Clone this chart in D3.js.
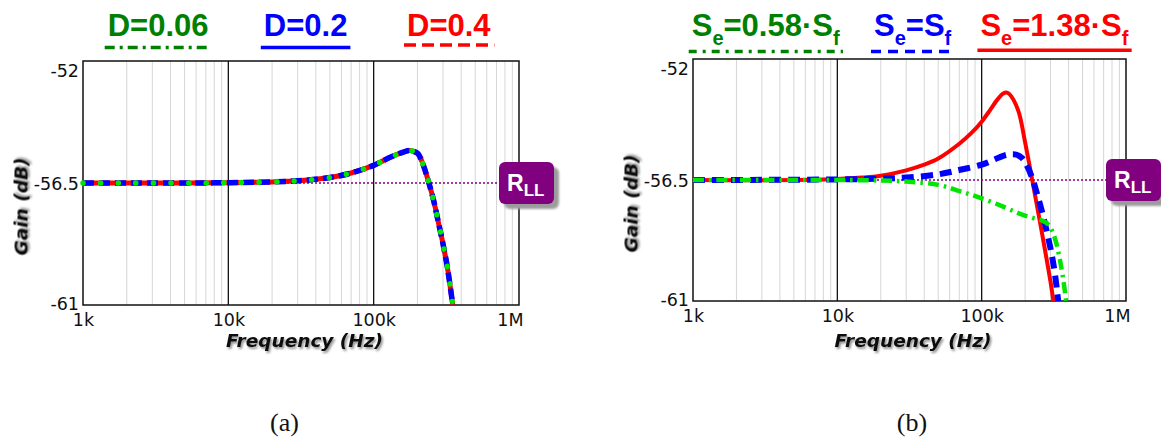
<!DOCTYPE html>
<html><head><meta charset="utf-8">
<script src="https://cdn.jsdelivr.net/npm/d3@7"></script>
<style>
html,body{margin:0;padding:0;background:#fff;}
svg{display:block;}
</style></head><body>
<svg id="chart" width="1161" height="440"></svg>
<script>
// ---------- shared axis data ----------
const xTickValues = [1e3, 1e4, 1e5, 1e6];
const xTickLabels = ["1k", "10k", "100k", "1M"];
const yTickValues = [-52, -56.5, -61];
const yTickLabels = ["-52", "-56.5", "-61"];
const yDomain = [-61, -52];
const xDomain = [1e3, 1e6];
const rllGain = -56.5;
const rllLabel = "R_{LL}";
const xTitle = "Frequency (Hz)";
const yTitle = "Gain (dB)";

// ---------- (a) duty-cycle sweep ----------
const dutyLabels = ["D=0.06", "D=0.2", "D=0.4"];
const dutyFreq = [1e3, 2e3, 5e3, 1e4, 2e4, 3e4, 5e4, 7e4, 1e5, 1.3e5, 1.6e5, 1.77e5, 2e5, 2.1e5, 2.2e5, 2.4e5, 2.6e5, 2.8e5, 3e5, 3.2e5, 3.4e5, 3.5e5];
const gainD006 = [-56.5, -56.5, -56.5, -56.49, -56.46, -56.42, -56.3, -56.13, -55.85, -55.55, -55.36, -55.3, -55.4, -55.58, -55.85, -56.5, -57.2, -58.0, -58.75, -59.55, -60.5, -61];
const gainD02  = [-56.5, -56.5, -56.5, -56.49, -56.46, -56.42, -56.3, -56.13, -55.85, -55.55, -55.36, -55.3, -55.4, -55.58, -55.85, -56.5, -57.2, -58.0, -58.75, -59.55, -60.5, -61];
const gainD04  = [-56.5, -56.5, -56.5, -56.49, -56.46, -56.42, -56.3, -56.13, -55.85, -55.55, -55.36, -55.3, -55.4, -55.58, -55.85, -56.5, -57.2, -58.0, -58.75, -59.55, -60.5, -61];

// ---------- (b) compensation-ramp sweep ----------
const rampLabels = ["S_e=0.58·S_f", "S_e=S_f", "S_e=1.38·S_f"];
const rampLowFreq  = [1e3, 1e4, 2e4, 3e4, 5e4, 7.1e4, 1e5, 1.41e5, 1.85e5, 2.29e5, 2.6e5, 2.85e5, 3.05e5, 3.25e5, 3.45e5, 3.65e5, 3.85e5];
const rampLowGain  = [-56.5, -56.5, -56.52, -56.56, -56.68, -56.92, -57.18, -57.49, -57.76, -57.92, -58.0, -58.12, -58.35, -58.75, -59.35, -60.1, -61];
const rampMidFreq  = [1e3, 1e4, 2e4, 3e4, 5e4, 7.1e4, 1e5, 1.2e5, 1.41e5, 1.6e5, 1.75e5, 1.9e5, 2.05e5, 2.22e5, 2.4e5, 2.67e5, 2.98e5, 3.2e5, 3.39e5];
const rampMidGain  = [-56.5, -56.48, -56.45, -56.41, -56.29, -56.12, -55.93, -55.76, -55.6, -55.54, -55.56, -55.68, -55.95, -56.37, -56.95, -57.86, -58.98, -59.9, -61];
const rampHighFreq = [1e3, 5e3, 1e4, 1.5e4, 2e4, 3e4, 4e4, 5e4, 7e4, 8.5e4, 1e5, 1.15e5, 1.28e5, 1.41e5, 1.5e5, 1.6e5, 1.8e5, 2e5, 2.24e5, 2.5e5, 2.8e5, 3e5, 3.14e5];
const rampHighGain = [-56.5, -56.5, -56.46, -56.41, -56.34, -56.14, -55.93, -55.7, -55.15, -54.75, -54.33, -53.88, -53.52, -53.28, -53.25, -53.38, -53.95, -55.1, -56.5, -57.88, -59.36, -60.29, -61];

const zip = (f, g) => f.map((v, i) => ({f: v, g: g[i]}));

// ---------- panel layout and styling ----------
const panels = [
  {
    box: {left: 83, right: 519, top: 61, bottom: 305},
    tag: "(a)", tagX: 284.5,
    legendLabels: dutyLabels,
    legendX: [107.7, 263.8, 407], legendBaseline: 36, underlineY: [47.4, 47.4, 45],
    series: [
      {data: zip(dutyFreq, gainD006), text: "#008000",
       curve: {stroke: "#00e600", width: 5.5, dash: "0.1,17.5", cap: "round"},
       key: {stroke: "#008000", dash: "10,5,3,5"}},
      {data: zip(dutyFreq, gainD02), text: "#0000ff",
       curve: {stroke: "#0000ff", width: 5.5, dash: "11,5", cap: "butt"},
       key: {stroke: "#0000ff", dash: null}},
      {data: zip(dutyFreq, gainD04), text: "#ff0000",
       curve: {stroke: "#ff0000", width: 5, dash: null, cap: "butt"},
       key: {stroke: "#ff0000", dash: "12,6"}}
    ],
    drawOrder: [2, 1, 0]
  },
  {
    box: {left: 693, right: 1126, top: 59, bottom: 301},
    tag: "(b)", tagX: 912,
    legendLabels: rampLabels,
    legendX: [691.7, 874, 980.4], legendBaseline: 36, underlineY: [51.4, 51.4, 50.3],
    series: [
      {data: zip(rampLowFreq, rampLowGain), text: "#008000",
       curve: {stroke: "#00e600", width: 4.5, dash: "11,5,2.5,5", cap: "butt"},
       key: {stroke: "#008000", dash: "8,6,3,6"}},
      {data: zip(rampMidFreq, rampMidGain), text: "#0000ff",
       curve: {stroke: "#0000ff", width: 6, dash: "12,7", cap: "butt"},
       key: {stroke: "#0000ff", dash: "10,7"}},
      {data: zip(rampHighFreq, rampHighGain), text: "#ff0000",
       curve: {stroke: "#ff0000", width: 4, dash: null, cap: "butt"},
       key: {stroke: "#ff0000", dash: null}}
    ],
    drawOrder: [2, 1, 0]
  }
];

const svg = d3.select("#chart");
svg.append("rect").attr("width", 1161).attr("height", 440).attr("fill", "#fff");

const defs = svg.append("defs");
const ts = defs.append("filter").attr("id", "titleShadow")
  .attr("x", "-10%").attr("y", "-30%").attr("width", "130%").attr("height", "180%");
ts.append("feDropShadow").attr("dx", 1.5).attr("dy", 2).attr("stdDeviation", 1.2)
  .attr("flood-color", "#000").attr("flood-opacity", 0.45);
const bs = defs.append("filter").attr("id", "badgeBlur")
  .attr("x", "-20%").attr("y", "-20%").attr("width", "140%").attr("height", "140%");
bs.append("feGaussianBlur").attr("stdDeviation", 1.3);

// writes "S_e" / "R_{LL}" style strings as text with lowered subscripts
function richText(textSel, str, size, subSize, subDy) {
  const re = /_(\{([^}]*)\}|(.))/g;
  let last = 0, m, lowered = false;
  const parts = [];
  while ((m = re.exec(str)) !== null) {
    if (m.index > last) parts.push({t: str.slice(last, m.index), sub: false});
    parts.push({t: m[2] !== undefined ? m[2] : m[3], sub: true});
    last = re.lastIndex;
  }
  if (last < str.length) parts.push({t: str.slice(last), sub: false});
  parts.forEach(p => {
    const ts = textSel.append("tspan").text(p.t)
      .attr("font-size", p.sub ? subSize : size);
    if (p.sub && !lowered) { ts.attr("dy", subDy); lowered = true; }
    else if (!p.sub && lowered) { ts.attr("dy", -subDy); lowered = false; }
  });
}

panels.forEach(P => {
  const {left, right, top, bottom} = P.box;
  const x = d3.scaleLog().domain(xDomain).range([left, right]);
  const y = d3.scaleLinear().domain(yDomain).range([bottom, top]);
  const g = svg.append("g");

  // minor decade gridlines
  const minor = [];
  for (let e = 3; e < 6; e++) for (let k = 2; k <= 9; k++) minor.push(k * Math.pow(10, e));
  g.append("g").selectAll("line").data(minor).join("line")
    .attr("x1", d => x(d)).attr("x2", d => x(d))
    .attr("y1", top).attr("y2", bottom)
    .attr("stroke", "#d6d6d6").attr("stroke-width", 1);

  // decade lines
  g.append("g").selectAll("line").data(xTickValues.slice(1, -1)).join("line")
    .attr("x1", d => x(d)).attr("x2", d => x(d))
    .attr("y1", top).attr("y2", bottom)
    .attr("stroke", "#111").attr("stroke-width", 1.3);

  // frame
  g.append("rect").attr("x", left).attr("y", top)
    .attr("width", right - left).attr("height", bottom - top)
    .attr("fill", "none").attr("stroke", "#111").attr("stroke-width", 1.5);

  // R_LL reference line
  const badgeX = right - 20, badgeW = 55, badgeH = 42;
  g.append("line")
    .attr("x1", left).attr("x2", badgeX)
    .attr("y1", y(rllGain)).attr("y2", y(rllGain))
    .attr("stroke", "#800080").attr("stroke-width", 1.5)
    .attr("stroke-dasharray", "2,2");

  // gain curves
  const line = d3.line().x(d => x(d.f)).y(d => y(d.g)).curve(d3.curveCatmullRom.alpha(0.5));
  P.drawOrder.forEach(i => {
    const s = P.series[i];
    g.append("path").datum(s.data).attr("d", line)
      .attr("fill", "none").attr("stroke", s.curve.stroke)
      .attr("stroke-width", s.curve.width)
      .attr("stroke-dasharray", s.curve.dash)
      .attr("stroke-linecap", s.curve.cap)
      .attr("stroke-linejoin", "round");
  });

  // R_LL badge
  const bg = g.append("g").attr("transform", `translate(${badgeX},${y(rllGain) - badgeH / 2})`);
  bg.append("rect").attr("x", 5).attr("y", 5).attr("width", badgeW).attr("height", badgeH)
    .attr("rx", 6).attr("fill", "#9c9c9c").attr("filter", "url(#badgeBlur)");
  bg.append("rect").attr("width", badgeW).attr("height", badgeH)
    .attr("rx", 6).attr("fill", "#800080");
  const bt = bg.append("text").attr("x", 8).attr("y", 29)
    .attr("fill", "#fff").attr("font-family", "'Liberation Sans', Arial, sans-serif")
    .attr("font-weight", "bold");
  richText(bt, rllLabel, 23, 17, 5);

  // x axis labels
  const xAxis = d3.axisBottom(x).tickValues(xTickValues)
    .tickFormat((d, i) => xTickLabels[i]).tickSize(0);
  const gx = g.append("g").attr("transform", `translate(0,${bottom})`).call(xAxis);
  gx.select(".domain").remove();
  gx.selectAll("text")
    .attr("y", 20.5).attr("dy", null)
    .attr("font-family", "'DejaVu Sans', Verdana, sans-serif")
    .attr("font-size", 17.5).attr("fill", "#111");
  gx.selectAll(".tick").filter((d, i) => i === xTickValues.length - 1)
    .select("text").attr("text-anchor", "end").attr("x", 4);

  // y axis labels, kept inside the frame at both ends
  const yAxis = d3.axisLeft(y).tickValues(yTickValues)
    .tickFormat((d, i) => yTickLabels[i]).tickSize(0).tickPadding(4);
  const gy = g.append("g").attr("transform", `translate(${left},0)`).call(yAxis);
  gy.select(".domain").remove();
  gy.selectAll("text")
    .attr("font-family", "'DejaVu Sans', Verdana, sans-serif")
    .attr("font-size", 17.5).attr("fill", "#111")
    .attr("dy", "0.36em")
    .attr("y", d => {
      const p = y(d);
      if (p - top < 9.5) return top + 9.5 - p;
      if (bottom - p < 2) return bottom - 2 - p;
      return 0;
    });

  // axis titles
  g.append("text").text(xTitle)
    .attr("x", (left + right) / 2 + 3.5).attr("y", 347)
    .attr("text-anchor", "middle")
    .attr("font-family", "'DejaVu Sans', Verdana, sans-serif")
    .attr("font-size", 18.5).attr("font-weight", "bold").attr("font-style", "italic")
    .attr("fill", "#111").attr("filter", "url(#titleShadow)");
  g.append("text").text(yTitle)
    .attr("transform", `translate(${left - 55.5},${(top + bottom) / 2 + 23.5}) rotate(-90)`)
    .attr("text-anchor", "middle")
    .attr("font-family", "'DejaVu Sans', Verdana, sans-serif")
    .attr("font-size", 18.5).attr("font-weight", "bold").attr("font-style", "italic")
    .attr("fill", "#111").attr("filter", "url(#titleShadow)");

  // legend above the frame
  P.legendLabels.forEach((lab, i) => {
    const s = P.series[i];
    const t = g.append("text").attr("x", P.legendX[i]).attr("y", P.legendBaseline)
      .attr("fill", s.text).attr("font-weight", "bold")
      .attr("font-family", "'Liberation Sans', Arial, sans-serif");
    richText(t, lab, 31, 20, 9);
    const w = t.node().getBBox().width;
    g.append("line")
      .attr("x1", P.legendX[i] - 3).attr("x2", P.legendX[i] + w + 3)
      .attr("y1", P.underlineY[i]).attr("y2", P.underlineY[i])
      .attr("stroke", s.key.stroke).attr("stroke-width", 3.5)
      .attr("stroke-dasharray", s.key.dash);
  });

  // sub-figure tag
  svg.append("text").text(P.tag)
    .attr("x", P.tagX).attr("y", 431).attr("text-anchor", "middle")
    .attr("font-family", "'Liberation Serif', 'Times New Roman', serif")
    .attr("font-size", 26).attr("fill", "#111");
});
</script>
</body></html>
